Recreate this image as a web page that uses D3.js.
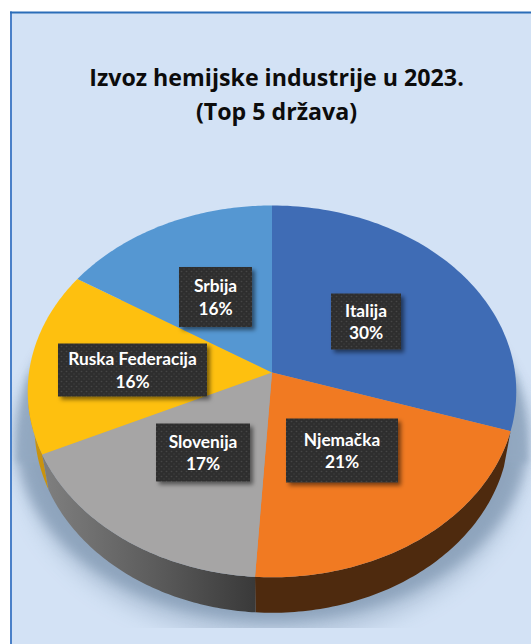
<!DOCTYPE html>
<html><head><meta charset="utf-8">
<script src="https://cdn.jsdelivr.net/npm/d3@7"></script>
<style>html,body{margin:0;padding:0;background:#fff}svg{display:block}</style>
</head><body><div id="c"></div>
<script>
const categories = ["Italija","Njemačka","Slovenija","Ruska Federacija","Srbija"];
const shares = [30,21,17,16,16];
const titleLines = ["Izvoz hemijske industrije u 2023.","(Top 5 država)"];
const topColors = ["#3f6cb5","#f17a22","#a6a5a5","#fec00f","#5597d2"];
const W=531,H=644;
const layout = {
  cx:272, cy:372.5, A:243, B:184, k:0.1016, depth:35.5, wallScale:0.972
};
const boxes = [
  {x:331,y:293.5,w:70,h:56},
  {x:286,y:418.5,w:112,h:64},
  {x:156,y:423.5,w:94,h:58},
  {x:58,y:343.5,w:149,h:53},
  {x:179,y:267,w:73,h:60}
];
const svg=d3.select("#c").append("svg").attr("width",W).attr("height",H);
const defs=svg.append("defs");
const rad=Math.PI/180;
function proj(t,scale=1,dy=0){
  const u=Math.sin(t),v=Math.cos(t),d=1+layout.k*v;
  return [layout.cx+scale*layout.A*u/d, layout.cy+dy-layout.B*v/d];
}
const pie=d3.pie().sort(null).value(d=>d);
const arcs=pie(shares);
const line=d3.line();
function samples(a,b,n=80){return d3.range(n+1).map(i=>a+(b-a)*i/n);}

// panel
svg.append("rect").attr("x",11).attr("y",12.5).attr("width",W).attr("height",H).attr("fill","#d3e2f5");
svg.append("rect").attr("x",10).attr("y",11.5).attr("width",2).attr("height",H).attr("fill","#4a80c8");
svg.append("rect").attr("x",10).attr("y",11.5).attr("width",W).attr("height",2).attr("fill","#2a6db8");

// shadow
defs.append("clipPath").attr("id","shClip").append("rect").attr("x",12).attr("y",300).attr("width",W).attr("height",328);
const shadowG=svg.append("g").attr("clip-path","url(#shClip)");
[{id:"blurA",sd:11,scale:1.03,dy:60,op:.42},{id:"blurB",sd:6,scale:1.05,dy:44,op:.68}].forEach(s=>{
  defs.append("filter").attr("id",s.id).attr("x","-20%").attr("y","-20%").attr("width","140%").attr("height","140%")
    .append("feGaussianBlur").attr("stdDeviation",s.sd);
  shadowG.append("path").attr("d",line(samples(0,2*Math.PI,160).map(t=>proj(t,s.scale,s.dy)))+"Z")
    .attr("fill","#7f96b0").attr("opacity",s.op).attr("filter",`url(#${s.id})`);
});
defs.append("filter").attr("id","blurC").attr("x","-60%").attr("y","-30%").attr("width","220%").attr("height","160%")
  .append("feGaussianBlur").attr("stdDeviation",3);
[-1,1].forEach(s=>{
  const e=proj(s*Math.PI/2);
  shadowG.append("path").attr("d",line([e,[e[0]+s*13,e[1]+90],[e[0]-s*22,e[1]+90]])+"Z")
    .attr("fill","#93a9c1").attr("opacity",.7).attr("filter","url(#blurC)");
});

// walls
const wallG=svg.append("g");
const grad=defs.append("linearGradient").attr("id","wallGray").attr("gradientUnits","userSpaceOnUse")
  .attr("x1",50).attr("x2",259).attr("y1",0).attr("y2",0);
grad.append("stop").attr("offset",0).attr("stop-color","#7d7d7d");
grad.append("stop").attr("offset",.5).attr("stop-color","#5c5c5c");
grad.append("stop").attr("offset",1).attr("stop-color","#383838");
const wallFill=["#3f6cb5","#4e2a0e","url(#wallGray)","#c9930f"];
function wall(a,b,fill){
  const ts=samples(a,b);
  const top=ts.map(t=>proj(t));
  const bot=ts.map(t=>proj(t,layout.wallScale,layout.depth)).reverse();
  wallG.append("path").attr("d",line(top.concat(bot))+"Z").attr("fill",fill);
}
wall(arcs[3].startAngle,arcs[3].startAngle+16*rad,wallFill[3]);
wall(arcs[1].startAngle,arcs[1].endAngle,wallFill[1]);
wall(arcs[2].startAngle,arcs[2].endAngle,wallFill[2]);

// top face
svg.append("g").selectAll("path").data(arcs).join("path")
  .attr("d",d=>line([[layout.cx,layout.cy]].concat(samples(d.startAngle,d.endAngle).map(t=>proj(t))))+"Z")
  .attr("fill",(d,i)=>topColors[i]);

// labels
const pat=defs.append("pattern").attr("id","dots").attr("patternUnits","userSpaceOnUse").attr("width",5).attr("height",5);
pat.append("rect").attr("width",5).attr("height",5).attr("fill","#2f2f2f");
pat.append("circle").attr("cx",1.5).attr("cy",1.5).attr("r",.8).attr("fill","#454545");
pat.append("circle").attr("cx",4).attr("cy",4).attr("r",.8).attr("fill","#3c3c3c");
const ds=defs.append("filter").attr("id","ds").attr("x","-20%").attr("y","-20%").attr("width","150%").attr("height","150%");
ds.append("feDropShadow").attr("dx",3).attr("dy",3).attr("stdDeviation",2.2).attr("flood-color","#000").attr("flood-opacity",.5);
const lab=svg.append("g").selectAll("g").data(categories).join("g");
lab.append("rect").attr("x",(d,i)=>boxes[i].x).attr("y",(d,i)=>boxes[i].y)
  .attr("width",(d,i)=>boxes[i].w).attr("height",(d,i)=>boxes[i].h)
  .attr("fill","url(#dots)").attr("filter","url(#ds)");
const tf=s=>s.attr("text-anchor","middle").attr("fill","#fff")
  .attr("font-family","Lato, 'Open Sans', sans-serif").attr("font-weight",700).attr("font-size",17.3);
lab.append("text").call(tf).attr("x",(d,i)=>boxes[i].x+boxes[i].w/2)
  .attr("y",(d,i)=>boxes[i].y+boxes[i].h/2-5).text(d=>d);
lab.append("text").call(tf).attr("x",(d,i)=>boxes[i].x+boxes[i].w/2)
  .attr("y",(d,i)=>boxes[i].y+boxes[i].h/2+17.5).text((d,i)=>shares[i]+"%");

// title
svg.append("g").selectAll("text").data(titleLines).join("text")
  .attr("x",276.5).attr("y",(d,i)=>86+i*33.5)
  .attr("text-anchor","middle").attr("fill","#0c0c0c")
  .attr("font-family","'Open Sans', sans-serif").attr("font-weight",700).attr("font-size",23.2)
  .text(d=>d);
</script></body></html>
